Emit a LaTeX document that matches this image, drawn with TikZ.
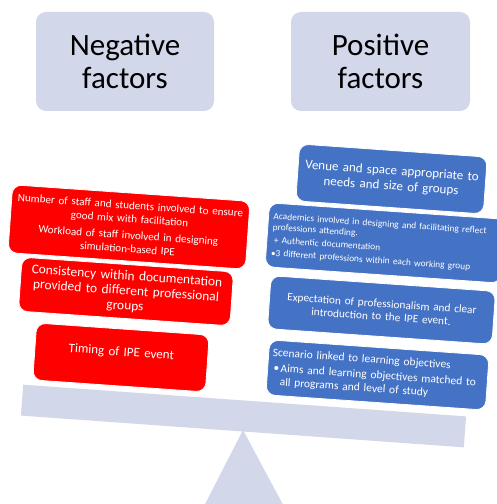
\documentclass[tikz,border=0pt]{standalone}
\usepackage{fontspec}
\setmainfont{Carlito}
\usepackage{tikz}
\definecolor{lav}{RGB}{210,215,233}
\definecolor{negred}{RGB}{255,0,0}
\definecolor{posblue}{RGB}{68,114,196}

\begin{document}
\begin{tikzpicture}[x=1pt,y=1pt]
            \tikzstyle{head}=[rounded corners=10pt, fill=lav, align=center, inner sep=0pt, font=\fontsize{31}{33}\selectfont]
            \tikzstyle{negbox}=[rounded corners=9pt, fill=negred, draw=white, line width=0.8pt, text=white, rotate=-4, inner xsep=3pt, inner ysep=0pt, align=center]
            \tikzstyle{posbox}=[rounded corners=9pt, fill=posblue, draw=white, line width=0.8pt, text=white, rotate=-4, inner xsep=4pt, inner ysep=0pt, align=center]

            \useasboundingbox (0,0) rectangle (497,504);
            \clip (0,0) rectangle (497,504);

            % balance
            \fill[lav] (243,74) -- (200,-10) -- (288,-10) -- cycle;
            \node[fill=lav, rotate=-4.1, minimum width=444pt, minimum height=31pt, inner sep=0pt] (beam) at (243.5,88) {};

            % headings
            \node[head, minimum width=178pt, minimum height=99pt] (neghead) at (125,442.5) {Negative\\factors};
            \node[head, minimum width=179pt, minimum height=99pt] (poshead) at (380.5,442.5) {Positive\\factors};

            % negative side
            \node[negbox, text width=232pt, minimum height=68pt, font=\fontsize{11.1}{13.5}\selectfont] (staff) at (129,277)
                {Number of staff and students involved to ensure\\good mix with facilitation\\[3pt]
                 Workload of staff involved in designing\\simulation-based IPE};
            \node[negbox, text width=206pt, minimum height=54pt, font=\fontsize{13.4}{15}\selectfont] (docs) at (126,212.5)
                {Consistency within documentation\\provided to different professional\\groups};
            \node[negbox, text width=167pt, minimum height=57pt, text depth=12pt, font=\fontsize{13}{15}\selectfont] (timing) at (121,146.5)
                {Timing of IPE event};

            % positive side
            \node[posbox, text width=180pt, minimum height=57pt, font=\fontsize{13}{15}\selectfont] (venue) at (391.5,325)
                {Venue and space appropriate to\\needs and size of groups};
            \node[posbox, text width=226pt, inner xsep=5pt, minimum height=64pt, align=left, font=\fontsize{9.4}{11}\selectfont] (academics) at (385,261)
                {Academics involved in designing and facilitating reflect\\professions attending.\\[2pt]
                 \hspace{2pt}+ Authentic documentation\\[2pt]
                 •3 different professions within each working group};
            \node[posbox, text width=217pt, minimum height=53pt, font=\fontsize{11.3}{13}\selectfont] (expect) at (381.5,194)
                {Expectation of professionalism and clear\\introduction to the IPE event.};
            \node[posbox, text width=212pt, minimum height=55pt, align=left, font=\fontsize{11.5}{13.5}\selectfont] (scenario) at (377.5,129)
                {Scenario linked to learning objectives\\[2pt]
                 \hspace*{2pt}\makebox[7pt][l]{•}Aims and learning objectives matched to\\
                 \hspace*{9pt}all programs and level of study};
\end{tikzpicture}
\end{document}
